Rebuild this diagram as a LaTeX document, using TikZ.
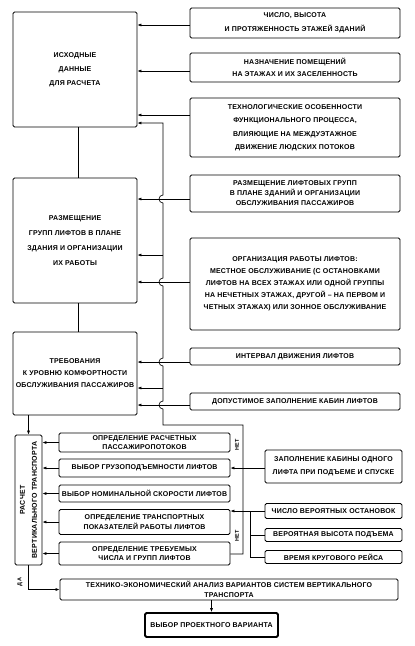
\documentclass[tikz,border=0pt]{standalone}
\usepackage{fontspec}
\setmainfont{Liberation Sans}[LetterSpace=3]
\usetikzlibrary{arrows.meta}
\newcommand{\fs}[1]{\fontsize{7}{#1}\selectfont\bfseries}

\begin{document}
\begin{tikzpicture}[x=1pt,y=-1pt]
\tikzstyle{every node}=[font=\fs{9},align=center,inner sep=1pt]
\tikzstyle{blk}=[draw,line width=0.8pt,rounded corners=1.5pt]
\tikzstyle{lbl}=[font=\fontsize{5.5}{6}\selectfont\bfseries,rotate=90]
\tikzstyle{ln}=[line width=0.65pt]
\tikzstyle{arr}=[line width=0.65pt,arrows={-Latex[length=4pt,width=3pt]}]
\useasboundingbox (0,0) rectangle (415,646);

\node[blk,minimum width=124,minimum height=115,font=\fs{14}] (init) at (75,69.5) {ИСХОДНЫЕ\\ДАННЫЕ\\ДЛЯ РАСЧЕТА};
\node[blk,minimum width=124,minimum height=125,font=\fs{15}] (place) at (75,240.5) {РАЗМЕЩЕНИЕ\\ГРУПП ЛИФТОВ В ПЛАНЕ\\ЗДАНИЯ И ОРГАНИЗАЦИИ\\ИХ РАБОТЫ};
\node[blk,minimum width=124,minimum height=83,font=\fs{12}] (req) at (75,373.5) {ТРЕБОВАНИЯ\\К УРОВНЮ КОМФОРТНОСТИ\\ОБСЛУЖИВАНИЯ ПАССАЖИРОВ};

\node[blk,minimum width=210,minimum height=30,font=\fs{14}] (r1) at (295,23) {ЧИСЛО, ВЫСОТА\\И ПРОТЯЖЕННОСТЬ ЭТАЖЕЙ ЗДАНИЙ};
\node[blk,minimum width=210,minimum height=29,font=\fs{12}] (r2) at (295,67.5) {НАЗНАЧЕНИЕ ПОМЕЩЕНИЙ\\НА ЭТАЖАХ И ИХ ЗАСЕЛЕННОСТЬ};
\node[blk,minimum width=210,minimum height=59,font=\fs{13.5}] (r3) at (295,127.5) {ТЕХНОЛОГИЧЕСКИЕ ОСОБЕННОСТИ\\ФУНКЦИОНАЛЬНОГО ПРОЦЕССА,\\ВЛИЯЮЩИЕ НА МЕЖДУЭТАЖНОЕ\\ДВИЖЕНИЕ ЛЮДСКИХ ПОТОКОВ};
\node[blk,minimum width=210,minimum height=37,font=\fs{10}] (r4) at (295,193.5) {РАЗМЕЩЕНИЕ ЛИФТОВЫХ ГРУПП\\В ПЛАНЕ ЗДАНИЙ И ОРГАНИЗАЦИИ\\ОБСЛУЖИВАНИЯ ПАССАЖИРОВ};
\node[blk,minimum width=210,minimum height=92,font=\fs{12}] (r5) at (295,284) {ОРГАНИЗАЦИЯ РАБОТЫ ЛИФТОВ:\\МЕСТНОЕ ОБСЛУЖИВАНИЕ (С ОСТАНОВКАМИ\\ЛИФТОВ НА ВСЕХ ЭТАЖАХ ИЛИ ОДНОЙ ГРУППЫ\\НА НЕЧЕТНЫХ ЭТАЖАХ, ДРУГОЙ – НА ПЕРВОМ И\\ЧЕТНЫХ ЭТАЖАХ) ИЛИ ЗОННОЕ ОБСЛУЖИВАНИЕ};
\node[blk,minimum width=210,minimum height=17] (r6) at (295,356.5) {ИНТЕРВАЛ ДВИЖЕНИЯ ЛИФТОВ};
\node[blk,minimum width=210,minimum height=17] (r7) at (295,401.5) {ДОПУСТИМОЕ ЗАПОЛНЕНИЕ КАБИН ЛИФТОВ};

\node[blk,rotate=90,minimum width=130,minimum height=27,font=\fs{12}] (calc) at (28.5,500) {РАСЧЕТ\\ВЕРТИКАЛЬНОГО ТРАНСПОРТА};
\node[blk,minimum width=171,minimum height=19] (m1) at (144.5,442.5) {ОПРЕДЕЛЕНИЕ РАСЧЕТНЫХ\\ПАССАЖИРОПОТОКОВ};
\node[blk,minimum width=171,minimum height=18] (m2) at (144.5,468) {ВЫБОР ГРУЗОПОДЪЕМНОСТИ ЛИФТОВ};
\node[blk,minimum width=171,minimum height=17] (m3) at (144.5,493.5) {ВЫБОР НОМИНАЛЬНОЙ СКОРОСТИ ЛИФТОВ};
\node[blk,minimum width=171,minimum height=25,font=\fs{10}] (m4) at (144.5,522) {ОПРЕДЕЛЕНИЕ ТРАНСПОРТНЫХ\\ПОКАЗАТЕЛЕЙ РАБОТЫ ЛИФТОВ};
\node[blk,minimum width=171,minimum height=23] (m5) at (144.5,553.5) {ОПРЕДЕЛЕНИЕ ТРЕБУЕМЫХ\\ЧИСЛА И ГРУПП ЛИФТОВ};

\node[blk,minimum width=137,minimum height=33,font=\fs{13}] (s1) at (333.5,466.5) {ЗАПОЛНЕНИЕ КАБИНЫ ОДНОГО\\ЛИФТА ПРИ ПОДЪЕМЕ И СПУСКЕ};
\node[blk,minimum width=137,minimum height=15] (s2) at (333.5,511) {ЧИСЛО ВЕРОЯТНЫХ ОСТАНОВОК};
\node[blk,minimum width=137,minimum height=13] (s3) at (333.5,535) {ВЕРОЯТНАЯ ВЫСОТА ПОДЪЕМА};
\node[blk,minimum width=137,minimum height=13] (s4) at (333.5,557) {ВРЕМЯ КРУГОВОГО РЕЙСА};

\node[blk,minimum width=338,minimum height=21,font=\fs{10}] (T) at (229,589.5) {ТЕХНИКО-ЭКОНОМИЧЕСКИЙ АНАЛИЗ ВАРИАНТОВ СИСТЕМ ВЕРТИКАЛЬНОГО\\ТРАНСПОРТА};
\node[blk,line width=1.8pt,minimum width=133,minimum height=24] (W) at (211.5,625) {ВЫБОР ПРОЕКТНОГО ВАРИАНТА};

\node[lbl] (da) at (20,582) {ДА};
\node[lbl] (no1) at (237,445) {НЕТ};
\node[lbl] (no2) at (237,536) {НЕТ};

\coordinate (lx) at (78,0);
\coordinate (fb) at (163,425);
\coordinate (nt) at (243,425);
\coordinate (bus) at (250,0);

\draw[ln] (init.south -| lx) -- (place.north -| lx);
\draw[ln] (place.south -| lx) -- (req.north -| lx);
\draw[arr] (req.south -| calc) -- (calc.east);

\draw[arr] (r1.west |- 0,25) -- (init.east |- 0,25);
\draw[arr] (r2.west |- 0,71) -- (init.east |- 0,71);
\draw[arr] (r3.west |- 0,115) -- (init.east |- 0,115);
\draw[arr] (r4.west |- 0,199) -- (place.east |- 0,199);
\draw[arr] (r5.west |- 0,282) -- (place.east |- 0,282);
\draw[arr] (r6.west |- 0,362) -- (req.east |- 0,362);
\draw[arr] (r7.west |- 0,405) -- (req.east |- 0,405);

\draw[arr] (m5.east |- 0,554) -- (nt |- 0,554) -- (nt) -- (fb) -- (163,409)
  arc[start angle=90,end angle=270,radius=4] -- (163,366)
  arc[start angle=90,end angle=270,radius=4] -- (163,286)
  arc[start angle=90,end angle=270,radius=4] -- (163,203)
  arc[start angle=90,end angle=270,radius=4] -- (163,123) -- (init.east |- 0,123);
\draw[arr] (fb |- 0,255) -- (place.east |- 0,255);
\draw[arr] (fb |- 0,388) -- (req.east |- 0,388);

\foreach \m in {m1,m2,m3,m4,m5}
  \draw[arr] (\m.west) -- (\m.west -| calc.south);
\draw[arr] (s1.west |- m2.east) -- (m2.east);
\draw[arr] (s2.west) -- (s2.west -| m4.east);
\draw[ln] (s2.west -| bus) -- (s4.west -| bus);
\draw[ln] (s3.west -| bus) -- (s3.west);
\draw[ln] (s4.west -| bus) -- (s4.west);

\draw[arr] (calc.west) -- (calc.west |- T.west) -- (T.west);
\draw[arr] (T.south -| W) -- (W.north);
\end{tikzpicture}
\end{document}
